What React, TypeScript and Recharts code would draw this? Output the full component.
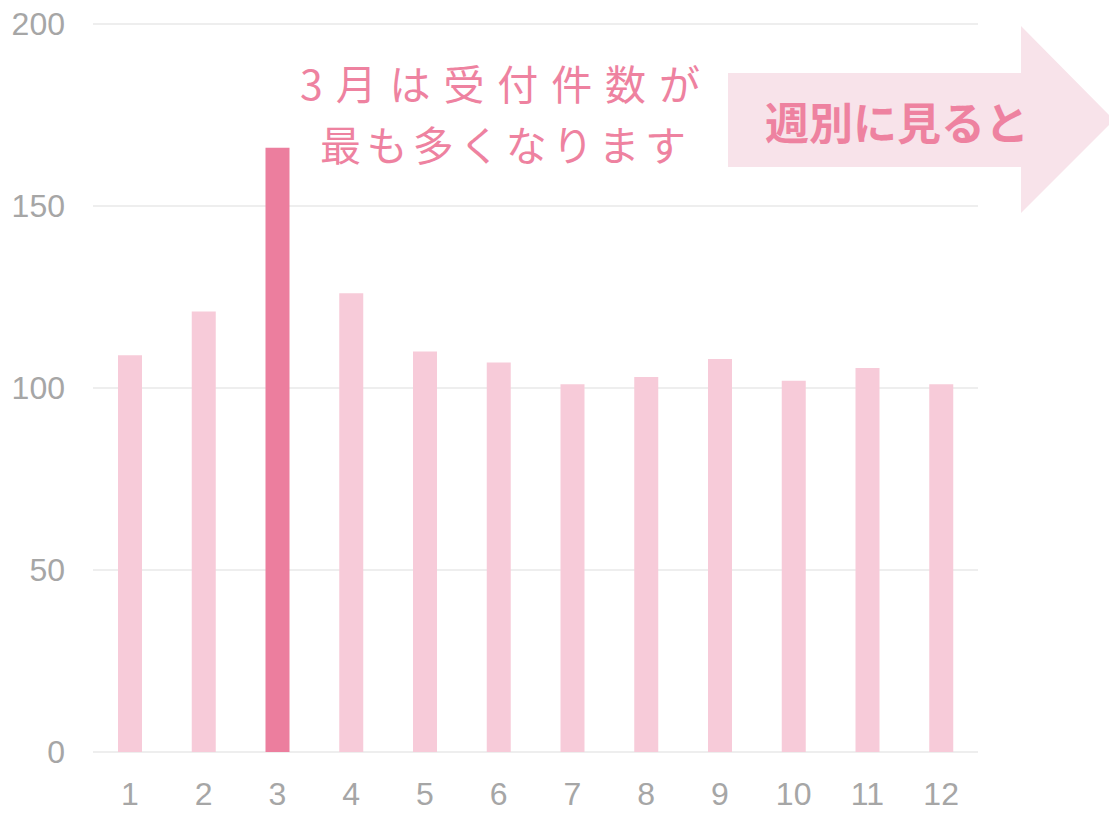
import { Bar, BarChart, CartesianGrid, Cell, XAxis, YAxis } from "recharts";

const months = ["1", "2", "3", "4", "5", "6", "7", "8", "9", "10", "11", "12"];
const counts = [109, 121, 166, 126, 110, 107, 101, 103, 108, 102, 105.5, 101];
const highlightMonth = "3";
const yTicks = [0, 50, 100, 150, 200];
const noteLines = ["3月は受付件数が", "最も多くなります"];
const arrowLabel = "週別に見ると";

const WIDTH = 1109;
const HEIGHT = 813;
const PINK_TEXT = "#ee82a0";

const data = months.map((month, i) => ({ month, count: counts[i] }));

function Overlay() {
  return (
    <svg
      width={WIDTH}
      height={HEIGHT}
      style={{ position: "absolute", left: 0, top: 0, pointerEvents: "none" }}
    >
      <polygon
        points="728,73 1021,73 1021,26 1114,120 1021,213 1021,167 728,167"
        fill="#f8e3ea"
      />
      <text
        x={897}
        y={121}
        textAnchor="middle"
        dominantBaseline="central"
        fill={PINK_TEXT}
        fontSize={44}
        fontWeight={700}
        fontFamily="'Noto Sans CJK JP', sans-serif"
      >
        {arrowLabel}
      </text>
      <text
        x={300}
        y={82}
        dominantBaseline="central"
        fill={PINK_TEXT}
        fontSize={41}
        fontFamily="'Noto Sans CJK JP', sans-serif"
        textLength={400}
        lengthAdjust="spacing"
      >
        {noteLines[0]}
      </text>
      <text
        x={320}
        y={143}
        dominantBaseline="central"
        fill={PINK_TEXT}
        fontSize={41}
        fontFamily="'Noto Sans CJK JP', sans-serif"
        textLength={366}
        lengthAdjust="spacing"
      >
        {noteLines[1]}
      </text>
    </svg>
  );
}

export default function App() {
  return (
    <div style={{ position: "absolute", left: 0, top: 0, width: WIDTH, height: HEIGHT, background: "#fff" }}>
      <BarChart
        width={WIDTH}
        height={HEIGHT}
        data={data}
        margin={{ top: 24, right: 131, bottom: 0, left: 0 }}
      >
        <CartesianGrid horizontal vertical={false} stroke="#e8e8e8" strokeWidth={1.5} />
        <XAxis
          dataKey="month"
          height={61}
          axisLine={false}
          tickLine={false}
          tickMargin={24}
          interval={0}
          tick={{ fill: "#a6a6a6", fontSize: 32, fontFamily: "'Liberation Sans', Arial, sans-serif" }}
        />
        <YAxis
          width={93}
          domain={[0, 200]}
          ticks={yTicks}
          axisLine={false}
          tickLine={false}
          tickMargin={22}
          tick={{ fill: "#a6a6a6", fontSize: 32, fontFamily: "'Liberation Sans', Arial, sans-serif" }}
        />
        <Bar dataKey="count" barSize={24} isAnimationActive={false}>
          {data.map((d) => (
            <Cell
              key={d.month}
              fill={d.month === highlightMonth ? "#ec7e9e" : "#f7cbd9"}
            />
          ))}
        </Bar>
      </BarChart>
      <Overlay />
    </div>
  );
}
